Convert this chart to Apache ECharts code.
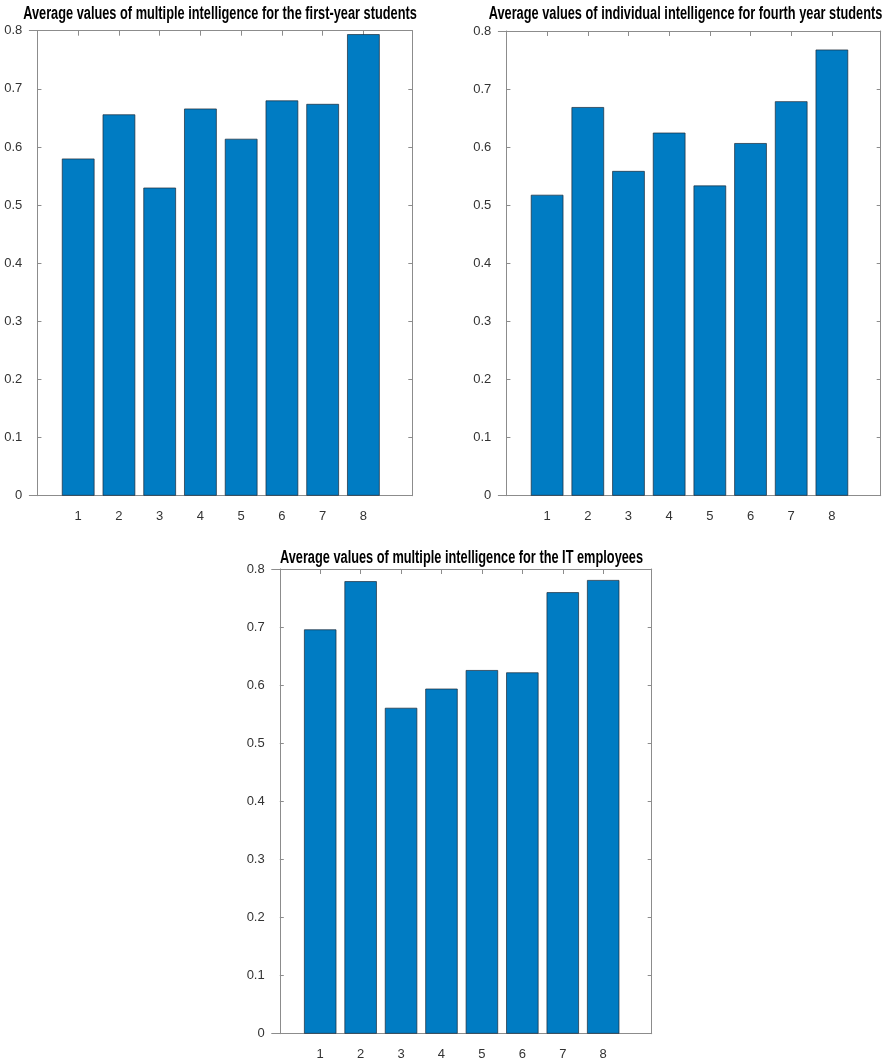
<!DOCTYPE html>
<html>
<head>
<meta charset="utf-8">
<script src="https://cdn.jsdelivr.net/npm/echarts@6/dist/echarts.min.js"></script>
<style>
html,body{margin:0;padding:0;background:#fff;}
#chart{width:890px;height:1061px;}
</style>
</head>
<body>
<div id="chart"></div>
<script>
// ---- data ----
const categories = [1, 2, 3, 4, 5, 6, 7, 8];
const firstYear  = [0.580, 0.656, 0.530, 0.666, 0.614, 0.680, 0.674, 0.794];
const fourthYear = [0.518, 0.669, 0.559, 0.625, 0.534, 0.607, 0.679, 0.768];
const itEmployees = [0.696, 0.779, 0.561, 0.594, 0.626, 0.622, 0.760, 0.781];
const titles = [
  'Average values of multiple intelligence for the first-year students',
  'Average values of individual intelligence for fourth year students',
  'Average values of multiple intelligence for the IT employees'
];
const yMin = 0, yMax = 0.8, yStep = 0.1;
const xMin = -0.2, xMax = 9.2;

// ---- layout / style ----
const FONT = "'Liberation Sans', Arial, sans-serif";
const grids = [
  {left: 29.3, top: 30.7, width: 383, height: 465},
  {left: 498.3, top: 31, width: 382.4, height: 464.7},
  {left: 271.7, top: 569, width: 380, height: 464.7}
];
const titleCenters = [[220, 14.5], [685.5, 14.5], [461.5, 558.5]];
const seriesData = [firstYear, fourthYear, itEmployees];
const AX = '#8c8c8c';
const BAR = '#007CC3';
const LABEL = '#333333';

const option = {
  animation: false,
  backgroundColor: '#fff',
  graphic: titles.map((t, i) => ({
    type: 'text',
    x: titleCenters[i][0],
    y: titleCenters[i][1],
    scaleX: 0.71,
    silent: true,
    style: {
      text: t,
      fontFamily: FONT, fontSize: 18, fontWeight: 'bold',
      fill: '#000',
      align: 'center', verticalAlign: 'middle'
    }
  })),
  grid: grids.map(g => Object.assign({containLabel: false}, g)),
  xAxis: [],
  yAxis: [],
  series: []
};

grids.forEach((g, i) => {
  option.xAxis.push({
    type: 'value', gridIndex: i, position: 'bottom', min: xMin, max: xMax,
    axisLine: {show: true, lineStyle: {color: AX, width: 1}},
    axisTick: {show: true, inside: true, length: 5, customValues: categories, lineStyle: {color: AX}},
    axisLabel: {show: true, customValues: categories, margin: 14, color: LABEL, fontFamily: FONT, fontSize: 13},
    splitLine: {show: false}
  });
  option.xAxis.push({
    type: 'value', gridIndex: i, position: 'top', min: xMin, max: xMax,
    axisLine: {show: true, onZero: false, lineStyle: {color: AX, width: 1}},
    axisTick: {show: true, inside: true, length: 5, customValues: categories, lineStyle: {color: AX}},
    axisLabel: {show: false},
    splitLine: {show: false}
  });
  option.yAxis.push({
    type: 'value', gridIndex: i, position: 'left', min: yMin, max: yMax, interval: yStep,
    axisLine: {show: true, lineStyle: {color: AX, width: 1}},
    axisTick: {show: true, inside: true, length: 4, lineStyle: {color: AX}},
    axisLabel: {show: true, margin: 7, color: LABEL, fontFamily: FONT, fontSize: 13},
    splitLine: {show: false}
  });
  option.yAxis.push({
    type: 'value', gridIndex: i, position: 'right', min: yMin, max: yMax, interval: yStep,
    axisLine: {show: true, onZero: false, lineStyle: {color: AX, width: 1}},
    axisTick: {show: true, inside: true, length: 4, lineStyle: {color: AX}},
    axisLabel: {show: false},
    splitLine: {show: false}
  });
  option.series.push({
    type: 'bar',
    xAxisIndex: i * 2,
    yAxisIndex: i * 2,
    barWidth: '80%',
    data: categories.map((c, k) => [c, seriesData[i][k]]),
    itemStyle: {color: BAR, borderColor: '#1b2a38', borderWidth: 0.7},
    emphasis: {disabled: true}
  });
});

const chart = echarts.init(document.getElementById('chart'), null, {renderer: 'canvas'});
chart.setOption(option);
</script>
</body>
</html>
